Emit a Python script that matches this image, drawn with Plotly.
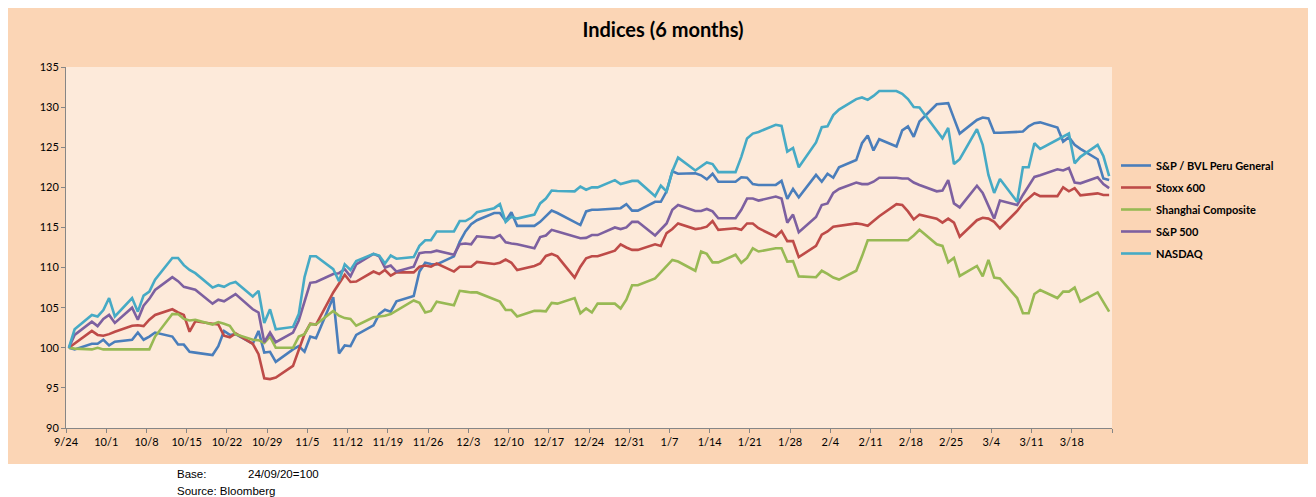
import pandas as pd
import plotly.graph_objects as go

# ---- data (business days 24 Sep 2020 .. 24 Mar 2021, base 24/09/20 = 100) ----
dates = pd.bdate_range("2020-09-24", "2021-03-24")

bvl = [100, 99.8,
       100.5, 100.5, 101.0, 100.3, 100.75,
       101.0, 101.9, 101.0, 101.4, 101.9,
       101.4, 100.4, 100.4, 99.5, 99.4,
       99.1, 100.2, 102.1, 101.6, 101.7,
       100.5, 102.1, 99.4, 99.5, 98.25,
       99.8, 100.2, 99.5, 101.4, 101.2,
       106.3, 99.3, 100.3, 100.2, 101.6,
       102.8, 104.2, 104.75, 104.5, 105.8,
       106.45, 109.5, 110.6, 110.45, 110.4,
       111.4, 113.2, 114.5, 115.4, 115.9,
       116.8, 116.8, 115.8, 116.9, 115.2,
       115.2, 115.7, 116.35, 117.1, 116.8,
       115.7, 115.3, 117.0, 117.2, 117.2,
       117.3, 117.4, 117.9, 117.1, 117.1,
       118.2, 118.2, 119.5, 122.0, 121.7,
       121.75, 121.5, 121.0, 121.7, 120.7,
       120.7, 121.25, 121.2, 120.4, 120.3,
       120.3, 120.8, 118.55, 119.8, 118.75,
       121.55, 120.7, 121.7, 121.2, 122.5,
       123.4, 125.5, 126.45, 124.6, 126.0,
       125.1, 127.1, 127.6, 126.3, 128.2,
       130.35, 130.4, 130.5, 128.6, 126.7,
       128.4, 128.7, 128.6, 126.8, 126.8,
       126.9, 126.95, 127.6, 128.0, 128.1,
       127.45, 125.7, 126.25, 125.3, 124.8,
       123.5, 121.1, 120.9]

stoxx = [100, 100.5,
         102.1, 101.6, 101.5, 101.7, 102.0,
         102.75, 102.8, 102.7, 103.5, 104.1,
         104.8, 104.4, 104.1, 102.0, 103.3,
         103.0, 102.9, 101.5, 101.3, 101.8,
         100.5, 99.2, 96.2, 96.1, 96.3,
         97.75, 99.6, 101.7, 103.0, 102.9,
         106.9, 108.0, 109.1, 108.2, 108.25,
         109.5, 109.2, 109.7, 109.0, 109.4,
         109.4, 110.1, 110.25, 110.1, 110.5,
         109.5, 110.1, 110.1, 110.1, 110.7,
         110.45, 110.6, 111.0, 110.6, 109.7,
         110.2, 110.5, 111.45, 111.7, 111.4,
         108.75, 110.1, 111.15, 111.4, 111.4,
         112.1, 112.9, 112.5, 112.2, 112.2,
         112.9, 112.7, 114.3, 114.8, 115.5,
         114.8, 114.9, 115.1, 115.8, 114.7,
         114.9, 114.7, 115.5, 115.5, 114.9,
         113.85, 114.55, 113.3, 113.3, 111.3,
         112.7, 114.1, 114.5, 115.1, 115.2,
         115.5, 115.4, 115.2, 115.8, 116.4,
         117.9, 117.8, 117.0, 116.0, 116.6,
         116.1, 115.6, 116.1, 115.6, 113.85,
         115.9, 116.2, 116.1, 115.7, 114.9,
         117.05, 118.0, 118.6, 119.25, 118.9,
         118.9, 120.0, 119.5, 119.9, 119.0,
         119.25, 119.05, 119.05]

shanghai = [100, 99.9,
            99.8, 100.0, 99.8, 99.8, 99.8,
            99.8, 99.8, 99.8, 99.8, 101.4,
            104.2, 104.2, 103.6, 103.4, 103.5,
            102.9, 103.2, 103.0, 102.75, 101.7,
            101.0, 100.95, 100.6, 101.4, 100.0,
            100.0, 101.4, 101.7, 102.95, 102.9,
            104.6, 104.0, 103.7, 103.6, 102.75,
            103.8, 103.9, 104.0, 104.2, 104.6,
            105.9, 105.6, 104.4, 104.6, 105.75,
            105.3, 107.1, 107.0, 106.9, 106.9,
            106.0, 105.75, 104.7, 104.7, 103.9,
            104.6, 104.6, 104.55, 105.6, 105.5,
            106.2, 104.3, 104.9, 104.4, 105.5,
            105.5, 104.9, 106.0, 107.8, 107.8,
            108.65, 109.4, 110.1, 110.95, 110.75,
            109.6, 112.0, 111.7, 110.65, 110.65,
            111.6, 110.6, 111.2, 112.4, 112.0,
            112.4, 112.4, 110.75, 110.8, 108.9,
            108.8, 109.6, 109.2, 108.75, 108.5,
            109.6, 111.4, 113.4, 113.4, 113.4,
            113.4, 113.4, 113.4, 114.0, 114.7,
            112.9, 112.7, 110.65, 111.2, 108.95,
            110.2, 108.9, 110.95, 108.75, 108.65,
            106.2, 104.3, 104.3, 106.7, 107.2,
            106.2, 107.0, 107.0, 107.5, 105.75,
            106.9, 105.75, 104.5]

sp500 = [100, 101.6,
         103.25, 102.7, 103.6, 104.1, 103.1,
         105.0, 103.5, 105.25, 106.1, 107.2,
         108.8, 108.3, 107.6, 107.4, 107.25,
         105.5, 106.0, 105.8, 106.3, 106.7,
         104.8, 104.4, 100.7, 101.9, 100.7,
         101.9, 103.4, 105.9, 108.1, 108.2,
         109.2, 109.3, 109.8, 108.9, 110.4,
         111.7, 111.4, 110.0, 110.25, 109.5,
         110.1, 111.8, 111.9, 111.9, 112.1,
         111.6, 112.9, 113.0, 112.9, 113.9,
         113.7, 114.05, 113.15, 113.0, 112.9,
         112.4, 113.8, 114.0, 114.7, 114.5,
         113.9, 113.65, 113.7, 114.05, 114.05,
         115.0, 114.8, 115.0, 115.7, 115.7,
         114.0, 114.7, 115.5, 117.2, 117.8,
         117.05, 117.05, 117.3, 117.0, 116.15,
         116.15, 117.2, 118.6, 118.6, 118.35,
         118.85, 118.6, 115.6, 116.6, 114.4,
         116.3, 117.8, 118.0, 119.3, 119.8,
         120.6, 120.4, 120.4, 120.7, 121.2,
         121.2, 121.1, 121.1, 120.6, 120.3,
         119.5, 119.6, 120.9, 118.0, 117.5,
         120.2, 119.3, 117.6, 116.1, 118.35,
         117.8, 119.05, 120.2, 121.3, 121.5,
         122.25, 122.1, 122.4, 120.6, 120.5,
         121.25, 120.4, 119.9]

nasdaq = [100, 102.3,
          104.1, 103.9, 104.7, 106.2, 103.9,
          106.2, 104.5, 106.5, 107.0, 108.5,
          111.2, 111.2, 110.3, 109.7, 109.3,
          107.5, 107.8, 107.6, 108.0, 108.2,
          106.4, 107.1, 103.1, 104.8, 102.3,
          102.6, 104.2, 108.8, 111.4, 111.4,
          109.8, 108.3, 110.4, 109.7, 110.8,
          111.7, 111.5, 110.5, 111.5, 111.1,
          111.3, 112.7, 113.4, 113.4, 114.5,
          114.5, 115.8, 115.8, 116.2, 116.9,
          117.4, 117.9, 115.7, 116.35, 116.1,
          116.6, 118.0, 118.6, 119.6, 119.55,
          119.5, 120.1, 119.7, 120.0, 120.0,
          120.9, 120.4, 120.6, 120.8, 120.8,
          118.9, 120.2, 119.5, 122.0, 123.7,
          122.1, 122.6, 123.1, 122.9, 121.9,
          121.9, 123.8, 126.1, 126.7, 126.9,
          127.8, 127.65, 124.45, 124.9, 122.5,
          125.6, 127.5, 127.6, 129.0, 129.7,
          131.0, 131.2, 130.9, 131.4, 132.0,
          132.0, 131.65, 131.0, 130.0, 129.95,
          126.95, 126.1, 127.4, 122.9, 123.5,
          127.25, 125.3, 121.55, 119.3, 121.05,
          118.2, 122.5, 122.5, 125.5, 124.8,
          126.0, 126.3, 126.7, 123.0, 123.8,
          125.3, 123.9, 121.4]

series_names = ["S&P / BVL Peru General", "Stoxx 600", "Shanghai Composite",
                "S&P 500", "NASDAQ"]
series_values = [bvl, stoxx, shanghai, sp500, nasdaq]
series_colors = ["#4A7EBB", "#BE4B48", "#98B954", "#7D60A0", "#46AAC5"]

tick_labels = ["9/24", "10/1", "10/8", "10/15", "10/22", "10/29", "11/5", "11/12",
               "11/19", "11/26", "12/3", "12/10", "12/17", "12/24", "12/31", "1/7",
               "1/14", "1/21", "1/28", "2/4", "2/11", "2/18", "2/25", "3/4", "3/11",
               "3/18", ""]
tick_dates = pd.date_range("2020-09-24", "2021-03-25", freq="7D")

# points sit in the middle of each day slot (Excel date axis, "between tick marks")
x_vals = dates + pd.Timedelta(hours=12)

W, H = 1316, 497
OFF = 8  # page body margin: figure origin lands at (8, 8) in the screenshot
# plot area in screenshot pixels
L_s, R_s, T_s, B_s = 66, 1112, 67, 428
L, R, T, B = L_s - OFF, R_s - OFF, T_s - OFF, B_s - OFF  # in figure pixels
pw, ph = R - L, B - T


def px_x(px):  # screenshot x -> paper x
    return (px - OFF - L) / pw


def px_y(py):  # screenshot y -> paper y
    return (B - (py - OFF)) / ph


fig = go.Figure()
for name, vals, col in zip(series_names, series_values, series_colors):
    fig.add_trace(go.Scatter(x=x_vals, y=vals, mode="lines", name=name,
                             legendgroup=name,
                             line=dict(color=col, width=2.6)))

font_main = "Lato, 'Open Sans', Arial, sans-serif"
font_note = "Liberation Sans, Arial, sans-serif"

fig.update_layout(
    width=W, height=H,
    margin=dict(l=L, r=W - R, t=T, b=H - B, pad=0),
    paper_bgcolor="white",
    plot_bgcolor="#FDEADA",
    showlegend=True,
    title=dict(text="<b>Indices (6 months)</b>", x=(663 - OFF) / W, xref="container",
               xanchor="center", y=1 - (30 - OFF) / H, yref="container", yanchor="middle",
               font=dict(family=font_main, size=20, color="black")),
    legend=dict(x=px_x(1116), y=px_y(151), xanchor="left", yanchor="top",
                bgcolor="rgba(0,0,0,0)", borderwidth=0, tracegroupgap=3,
                font=dict(family=font_main, size=11, color="black", weight="bold")),
    xaxis=dict(type="date", range=["2020-09-24", "2021-03-25"],
               tickmode="array", tickvals=tick_dates, ticktext=tick_labels,
               ticks="outside", ticklen=4, tickcolor="#868686",
               showline=True, linecolor="#868686", linewidth=1,
               showgrid=False, zeroline=False,
               tickfont=dict(family=font_main, size=11, color="black")),
    yaxis=dict(range=[90, 135], tick0=90, dtick=5,
               ticks="outside", ticklen=4, tickcolor="#868686",
               showline=True, linecolor="#868686", linewidth=1,
               showgrid=False, zeroline=False,
               tickfont=dict(family=font_main, size=11, color="black")),
    shapes=[
        dict(type="rect", xref="paper", yref="paper", layer="below",
             x0=px_x(5), x1=px_x(W + OFF), y0=px_y(464), y1=px_y(5),
             fillcolor="#FBD5B5", line=dict(width=0)),
        dict(type="rect", xref="paper", yref="paper", layer="below",
             x0=0, x1=1, y0=0, y1=1,
             fillcolor="#FDEADA", line=dict(width=0)),
    ],
    annotations=[
        dict(text="Base:", xref="paper", yref="paper", x=px_x(175), y=px_y(474),
             xanchor="left", yanchor="middle", showarrow=False,
             font=dict(family=font_note, size=11.5, color="black")),
        dict(text="24/09/20=100", xref="paper", yref="paper", x=px_x(246), y=px_y(474),
             xanchor="left", yanchor="middle", showarrow=False,
             font=dict(family=font_note, size=11.5, color="black")),
        dict(text="Source: Bloomberg", xref="paper", yref="paper", x=px_x(175), y=px_y(491),
             xanchor="left", yanchor="middle", showarrow=False,
             font=dict(family=font_note, size=11.5, color="black")),
    ],
)

fig.write_html("out.html")
